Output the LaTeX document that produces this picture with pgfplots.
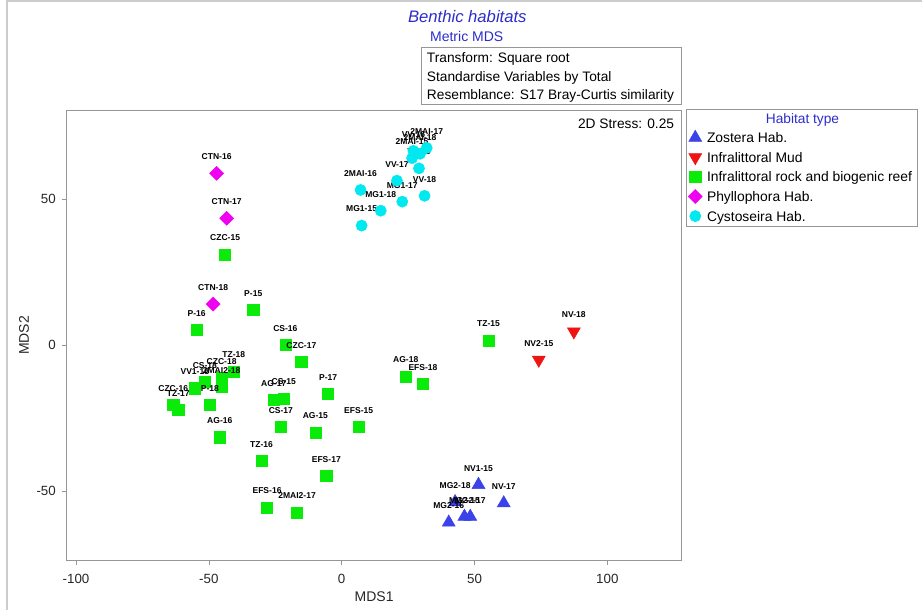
\documentclass[border=0pt]{standalone}
\usepackage{fontspec}
\setmainfont{Liberation Sans}
\usepackage{pgfplots}
\pgfplotsset{compat=1.18}
\usepackage{pgfplotstable}

\definecolor{titleblue}{RGB}{44,44,204}
\definecolor{zblue}{RGB}{58,66,234}
\definecolor{mudred}{RGB}{238,20,20}
\definecolor{rockgreen}{RGB}{10,235,10}
\definecolor{phymag}{RGB}{240,0,240}
\definecolor{cyscyan}{RGB}{0,232,240}
\definecolor{framegray}{RGB}{150,150,150}

% Zostera Hab.
\pgfplotstableread{
x y label
51.5 -47.9 NV1-15
61.0 -54.2 NV-17
42.7 -53.8 MG2-18
40.3 -60.8 MG2-16
46.2 -58.8 MG2-15
48.4 -58.8 MG2-17
}\zostera

% Infralittoral Mud
\pgfplotstableread{
x y label
87.4 4.6 NV-18
74.2 -5.1 NV2-15
}\mud

% Infralittoral rock and biogenic reef
\pgfplotstableread{
x y label
-43.9 31.0 CZC-15
-33.3 12.0 P-15
-54.6 5.1 P-16
-21.2 0.0 CS-16
-15.2 -5.7 CZC-17
-40.6 -9.1 TZ-18
-45.2 -11.4 CZC-18
-45.2 -14.3 2MAI2-18
-51.5 -12.6 CS-18
-55.3 -14.8 VV1-18
-49.6 -20.5 P-18
-63.4 -20.5 CZC-16
-61.5 -22.3 TZ-17
-25.6 -18.8 AG-17
-21.8 -18.3 CS-15
-5.1 -16.8 P-17
-22.9 -28.0 CS-17
-9.9 -30.0 AG-15
6.4 -28.0 EFS-15
-45.9 -31.6 AG-16
-30.2 -39.7 TZ-16
-5.8 -44.9 EFS-17
-28.1 -55.7 EFS-16
-16.8 -57.4 2MAI2-17
55.3 1.5 TZ-15
24.1 -10.8 AG-18
30.6 -13.4 EFS-18
}\rock

% Phyllophora Hab.
\pgfplotstableread{
x y label
-47.1 58.8 CTN-16
-43.3 43.4 CTN-17
-48.4 14.0 CTN-18
}\phyllo

% Cystoseira Hab.
\pgfplotstableread{
x y label
7.1 53.1 2MAI-16
7.5 40.9 MG1-15
14.7 46.0 MG1-18
22.8 49.1 MG1-17
31.2 51.1 VV-18
20.8 56.3 VV-17
29.1 60.5 VV-15
26.5 64.0 2MAI-15
29.5 65.5 2MAI-18
27.0 66.5 VV-16
32.0 67.5 2MAI-17
}\cysto

\pgfplotsset{
  hab/.style={only marks,
    legend image code/.code={%
      \path[draw=none, fill=none, use as bounding box] (-5pt,-5pt) rectangle (5pt,5pt);
      \draw[##1] plot coordinates {(0pt,1.2pt)};}},
}

\begin{document}
\begin{tikzpicture}
\path[use as bounding box] (0,0) rectangle (691.5pt,457.5pt);

\begin{axis}[
    at={(49.875pt,36.975pt)}, anchor=south west,
    scale only axis, width=461.4pt, height=338.025pt,
    xmin=-103.6, xmax=128.0, ymin=-73.9, ymax=80.5,
    xtick={-100,-50,0,50,100}, ytick={-50,0,50},
    tick pos=left, tick align=outside, major tick length=3pt,
    axis line style={framegray},
    every tick/.style={framegray},
    ticklabel style={font=\fontsize{10}{12}\selectfont, text=black!85},
    xticklabel style={yshift=-3.5pt},
    yticklabel style={xshift=-1.5pt},
    /pgf/number format/assume math mode=true,
    xlabel={MDS1}, ylabel={MDS2},
    label style={font=\fontsize{10.5}{12}\selectfont, text=black!85},
    xlabel style={at={(axis description cs:0.5,0)}, anchor=center, yshift=-27.2pt},
    ylabel style={at={(axis description cs:0,0.5)}, anchor=center, yshift=31.9pt},
    clip=false,
    nodes near coords, point meta=explicit symbolic,
    every node near coord/.append style={anchor=center, yshift=12.4pt,
      inner sep=0pt, text=black, font=\bfseries\fontsize{6.4}{7}\selectfont},
    legend cell align=left,
    legend style={at={(1.0108,0.9503)}, anchor=north west, draw=none, fill=none,
      inner sep=0pt, row sep=4.7pt, column sep=3.8pt,
      font=\fontsize{10.4}{12}\selectfont,
      nodes={inner sep=0pt, text height=7.5pt, text depth=2.5pt}},
]
\addplot[hab, mark=triangle*, mark size=5.6pt, color=zblue]
  table[x=x, y=y, meta=label] {\zostera};
\addlegendentry{Zostera Hab.}
\addplot[hab, mark=triangle*, mark size=5.6pt, mark options={rotate=180}, color=mudred]
  table[x=x, y=y, meta=label] {\mud};
\addlegendentry{Infralittoral Mud}
\addplot[hab, mark=square*, mark size=4.2pt, color=rockgreen]
  table[x=x, y=y, meta=label] {\rock};
\addlegendentry{Infralittoral rock and biogenic reef}
\addplot[hab, mark=square*, mark size=3.7pt, mark options={rotate=45}, color=phymag]
  table[x=x, y=y, meta=label] {\phyllo};
\addlegendentry{Phyllophora Hab.}
\addplot[hab, mark=*, mark size=4.2pt, color=cyscyan]
  table[x=x, y=y, meta=label] {\cysto};
\addlegendentry{Cystoseira Hab.}
\end{axis}

% pixel-based layout of the annotations (origin top left)
\begin{scope}[x=0.75pt, y=-0.75pt, shift={(0pt,457.5pt)}]
  \draw[gray!40, line width=1.5pt] (7,610) -- (7,1) -- (922,1);
  \node[anchor=base, inner sep=0pt, text=titleblue,
    font=\itshape\fontsize{12.5}{14}\selectfont] at (467.3,23) {Benthic habitats};
  \node[anchor=base, inner sep=0pt, text=titleblue,
    font=\fontsize{10.5}{12}\selectfont] at (466.7,41.7) {Metric MDS};
  \draw[framegray] (421.7,47.3) rectangle (681,104);
  \begin{scope}[every node/.style={anchor=base west, inner sep=0pt,
      font=\fontsize{10.3}{12}\selectfont}]
    \node at (426.7,62.7) {Transform: Square root};
    \node at (426.7,81.5) {Standardise Variables by Total};
    \node at (426.7,100) {Resemblance: S17 Bray-Curtis similarity};
  \end{scope}
  \node[anchor=base east, inner sep=0pt, font=\fontsize{10.3}{12}\selectfont]
    at (674.3,128.3) {2D Stress: 0.25};
  \draw[framegray] (686.7,109.3) rectangle (917.7,226);
  \node[anchor=base, inner sep=0pt, text=titleblue,
    font=\fontsize{10.3}{12}\selectfont] at (802.5,123.3) {Habitat type};
\end{scope}
\end{tikzpicture}
\end{document}
